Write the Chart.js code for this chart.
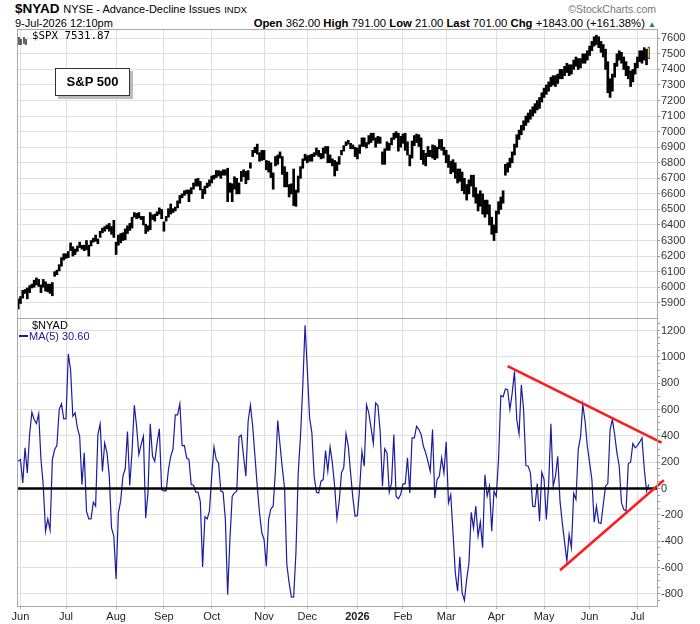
<!DOCTYPE html>
<html>
<head>
<meta charset="utf-8">
<script src="https://cdn.jsdelivr.net/npm/chart.js@4.4.1/dist/chart.umd.min.js"></script>
<style>
  body { margin: 0; width: 700px; height: 624px; background: #fff; position: relative; overflow: hidden;
         font-family: "Liberation Sans", Arial, sans-serif; color: #000; }
  .txt { position: absolute; white-space: nowrap; }
  canvas { position: absolute; left: 0; }
  #spBox { position: absolute; left: 55px; top: 68px; width: 73px; height: 26px; border: 1px solid #333;
           background: #fff; box-shadow: 3px 3px 0 #bbb; font: bold 13px "Liberation Sans", Arial, sans-serif;
           text-align: center; line-height: 26px; }
</style>
</head>
<body>
<div class="txt" style="left:15px;top:2px;font-size:13.5px;line-height:13px;"><b>$NYAD</b> <span style="font-size:11px">NYSE - Advance-Decline Issues</span> <span style="font-size:9.5px">INDX</span></div>
<div class="txt" style="left:15px;top:18px;font-size:11px;line-height:11px;">9-Jul-2026 12:10pm</div>
<div class="txt" style="right:44px;top:4px;font-size:10.5px;line-height:10.5px;color:#777;">&copy;StockCharts.com</div>
<div class="txt" style="right:44px;top:18px;font-size:11.3px;line-height:11px;"><b>Open</b> 362.00 <b>High</b> 791.00 <b>Low</b> 21.00 <b>Last</b> 701.00 <b>Chg</b> +1843.00 (+161.38%) <span style="color:#2e7d32;font-size:8px;">&#9650;</span></div>

<canvas id="priceChart" width="700" height="289" style="top:29px"></canvas>
<canvas id="adChart" width="700" height="306" style="top:318px"></canvas>

<div class="txt" style="left:18px;top:31px;">
  <svg width="9" height="8"><path d="M1 0v8M3 2v6M6 0v7M8 2v6" stroke="#000" stroke-width="1.2"/></svg>
</div>
<div class="txt" style="left:32px;top:30px;font-family:'DejaVu Sans Mono',monospace;font-size:10.8px;line-height:11px;">$SPX 7531.87</div>
<div id="spBox">S&amp;P 500</div>
<div class="txt" style="left:32px;top:320px;font-size:11px;line-height:11px;">$NYAD</div>
<div class="txt" style="left:19px;top:331px;font-size:11px;line-height:11px;color:#1a1a9a;"><span style="display:inline-block;width:9px;height:2px;background:#1a1a9a;vertical-align:3px;margin-right:1px"></span>MA(5) 30.60</div>

<script>
// x positions are trading-day indexes, 0 = 30-May-2025
const monthStarts = [1, 21, 43, 64, 85, 108, 127, 149, 169, 188, 210, 231, 251, 272];
const monthNames = ["Jun", "Jul", "Aug", "Sep", "Oct", "Nov", "Dec", "2026", "Feb", "Mar", "Apr", "May", "Jun", "Jul"];

const priceTicks = [5900, 6000, 6100, 6200, 6300, 6400, 6500, 6600, 6700, 6800, 6900, 7000, 7100, 7200, 7300, 7400, 7500, 7600];
const adTicks = [-800, -600, -400, -200, 0, 200, 400, 600, 800, 1000, 1200];

// $SPX daily lows / highs
const spxLow = [
  5860,5895,5930,5960,5925,5965,5995,6000,6015,6005,5965,6000,5975,5970,5960,5945,6070,6080,6105,6135,6175,
  6185,6190,6235,6200,6210,6230,6255,6245,6235,6240,6200,6265,6290,6295,6280,6320,6350,6360,6375,6360,6340,6320,
  6210,6270,6285,6300,6305,6345,6365,6380,6450,6440,6445,6435,6400,6345,6360,6370,6435,6425,6460,6470,6440,
  6360,6425,6450,6470,6480,6490,6510,6540,6575,6590,6600,6550,6600,6630,6650,6650,6625,6570,6600,6640,6650,
  6670,6695,6705,6715,6700,6720,6720,6550,6610,6550,6630,6600,6600,6680,6710,6665,6690,6765,6840,6865,6855,6810,6815,
  6820,6755,6740,6705,6630,6780,6790,6830,6725,6645,6645,6580,6600,6525,6520,6610,6700,6765,6815,
  6800,6810,6810,6840,6850,6840,6825,6830,6860,6800,6800,6780,6715,6750,6790,6850,6875,6910,6920,6890,6890,6840,
  6825,6860,6905,6905,6895,6920,6930,6945,6900,6925,6925,6790,6790,6880,6880,6915,6950,6960,6875,6900,
  6925,6880,6850,6780,6830,6910,6930,6905,6820,6790,6780,6840,6840,6830,6820,6830,6890,6880,6850,
  6800,6770,6730,6740,6700,6670,6680,6620,6600,6560,6600,6650,6580,6540,6490,6520,6470,6450,6470,6400,6340,6300,
  6350,6470,6500,6540,6720,6740,6770,6800,6850,6900,6950,6980,7010,7040,7060,7080,7100,7120,7140,7150,7190,
  7220,7240,7260,7290,7300,7290,7310,7340,7340,7360,7380,7360,7370,7400,7420,7400,7410,7440,7440,7460,
  7490,7520,7550,7560,7540,7510,7480,7400,7250,7220,7260,7350,7420,7460,7440,7400,7360,7340,7290,7320,7370,
  7410,7450,7440,7460,7430,7470
];
const spxHigh = [
  5925,5940,5980,5985,5995,6010,6020,6045,6060,6050,6015,6050,6035,6020,6020,6030,6100,6110,6145,6190,6215,
  6215,6230,6285,6260,6245,6265,6290,6270,6270,6300,6270,6300,6315,6335,6310,6360,6380,6390,6400,6410,6390,6430,
  6290,6335,6345,6350,6375,6395,6410,6450,6480,6475,6480,6455,6455,6405,6395,6480,6465,6470,6485,6510,6500,
  6420,6455,6505,6535,6505,6515,6555,6590,6600,6620,6625,6625,6640,6670,6695,6700,6680,6630,6650,6670,6690,
  6715,6720,6750,6750,6745,6755,6755,6765,6670,6665,6710,6700,6670,6745,6755,6745,6750,6800,6880,6900,6920,6865,6880,
  6880,6815,6810,6800,6735,6840,6850,6870,6840,6775,6740,6660,6665,6760,6625,6715,6775,6825,6855,
  6845,6850,6855,6865,6895,6880,6860,6895,6905,6905,6850,6825,6815,6805,6840,6880,6910,6935,6945,6925,6915,6900,
  6895,6915,6960,6960,6930,6975,6990,6990,6960,6970,6965,6870,6890,6935,6925,6960,6990,7000,6990,6970,
  6985,6990,6935,6850,6940,6975,6985,6980,6960,6880,6860,6905,6880,6915,6910,6900,6950,6950,6900,
  6880,6850,6810,6820,6800,6760,6760,6740,6700,6660,6690,6720,6720,6640,6600,6620,6600,6560,6560,6530,6450,6400,
  6490,6550,6580,6620,6790,6800,6830,6870,6920,6980,7010,7040,7070,7100,7120,7140,7160,7180,7200,7220,7250,
  7280,7300,7320,7350,7360,7360,7370,7400,7400,7420,7440,7430,7430,7460,7480,7470,7470,7500,7500,7520,
  7550,7580,7610,7620,7610,7580,7560,7530,7450,7340,7370,7440,7500,7520,7510,7480,7450,7420,7390,7400,7440,
  7480,7520,7520,7540,7530,7545
];

// $NYAD 5-day moving average
const nyadMA5 = [
  207,220,43,309,119,410,579,524,493,567,
  220,25,-324,-230,-316,220,296,326,600,643,
  529,531,1022,903,549,574,460,397,30,271,
  -172,-230,-230,-104,-134,410,491,130,347,271,
  94,-300,-362,-686,-185,-96,94,150,433,23,
  283,633,473,258,334,397,-223,-33,491,245,
  207,347,453,-8,-18,-18,144,245,300,560,
  560,643,326,326,233,220,30,25,-28,-28,
  -100,-595,-215,-230,-172,94,316,220,195,-20,
  -28,-235,-807,-387,-58,-33,-20,392,405,245,
  94,511,633,473,245,18,-185,-336,-387,-589,
  -235,-154,-134,140,516,334,157,5,-577,-716,
  -825,-823,-488,119,397,777,1240,903,536,423,
  94,-28,-33,56,68,288,132,316,195,18,
  -230,-100,119,157,415,321,119,-71,-210,-205,
  5,283,170,635,574,460,342,650,630,435,
  18,301,271,-28,43,410,-58,-78,-46,35,
  35,233,-33,385,385,473,448,410,321,271,
  207,132,448,-71,68,94,233,119,354,-109,
  -46,-336,-640,-779,-519,-792,-850,-690,-564,-180,
  -300,-134,-362,-253,-450,104,-58,18,-324,-20,
  -60,220,706,696,756,751,600,726,891,524,
  415,787,600,175,170,119,-134,-139,38,-248,
  124,68,-235,30,491,18,94,245,-96,-261,
  -407,-552,-349,-450,-38,-83,296,392,638,511,
  321,195,68,-256,-134,-261,-266,-121,18,38,
  448,524,410,271,170,-109,-159,-172,190,200,
  342,309,326,352,385,150,-20,30.6
];

// hand-drawn trend lines [dayIndex, value]
const upperTrend = [[215, 929], [282.6, 349]];
const lowerTrend = [[238, -620], [283.6, 63]];

const X_MIN = -0.53, X_MAX = 280.6;
const GRID = "#e0e0e0";
const lastIdx = spxLow.length - 1;

const panelBorder = {
  id: "panelBorder",
  afterDraw(chart) {
    const { ctx, chartArea: a } = chart;
    ctx.save();
    ctx.strokeStyle = "#a8a8a8";
    ctx.lineWidth = 1;
    ctx.strokeRect(a.left + 0.5, a.top + 0.5, a.right - a.left, a.bottom - a.top);
    ctx.restore();
  }
};

function xScale(showLabels) {
  return {
    type: "linear",
    min: X_MIN,
    max: X_MAX,
    offset: false,
    afterBuildTicks: s => { s.ticks = monthStarts.map(v => ({ value: v })); },
    afterFit: s => {
      s.height = showLabels ? 18 : 0;
      s.paddingLeft = 0; s.paddingRight = 0;
    },
    border: { display: false },
    grid: { color: GRID, offset: false, drawTicks: showLabels, tickLength: 3, tickColor: "#aaa" },
    ticks: {
      display: showLabels,
      autoSkip: false,
      maxRotation: 0,
      padding: 1,
      color: "#222",
      font: c => ({ family: "Liberation Sans", size: 11, weight: monthNames[monthStarts.indexOf(c.tick && c.tick.value)] === "2026" ? "bold" : "normal" }),
      callback: v => monthNames[monthStarts.indexOf(v)] || ""
    }
  };
}

function yScale(min, max, tickValues, opts) {
  return {
    position: "right",
    min, max,
    afterBuildTicks: s => { s.ticks = tickValues.map(v => ({ value: v })); },
    afterFit: s => {
      s.width = 43;
      s.paddingTop = 0; s.paddingBottom = 0;
    },
    border: { display: false },
    grid: {
      color: c => (opts.major && !opts.major.includes(c.tick.value)) ? "rgba(0,0,0,0)" : GRID,
      tickLength: 3,
      tickColor: "#999"
    },
    ticks: {
      autoSkip: false,
      padding: 1,
      color: "#333",
      font: { family: "Liberation Sans", size: 11 },
      callback: v => (opts.major && !opts.major.includes(v)) ? "" : String(v)
    }
  };
}

new Chart(document.getElementById("priceChart"), {
  type: "bar",
  data: {
    datasets: [
      {
        data: spxLow.map((lo, i) => ({ x: i, y: [lo, spxHigh[i]] })),
        backgroundColor: c => c.dataIndex === lastIdx ? "#f5e600" : "#000",
        borderColor: c => c.dataIndex === lastIdx ? "#444" : "#000",
        borderWidth: c => c.dataIndex === lastIdx ? 1 : 0,
        borderSkipped: false,
        barThickness: 2,
        grouped: false
      }
    ]
  },
  options: {
    responsive: false,
    animation: false,
    layout: { padding: { left: 17, right: 0, top: 0, bottom: 0 } },
    plugins: { legend: { display: false }, tooltip: { enabled: false } },
    scales: {
      x: xScale(false),
      y: yScale(5802, 7660, priceTicks, {})
    }
  },
  plugins: [panelBorder]
});

// minor ticks for the breadth panel every 50
const adMinor = [];
for (let v = -850; v <= 1250; v += 50) adMinor.push(v);

new Chart(document.getElementById("adChart"), {
  type: "line",
  data: {
    datasets: [
      {
        data: upperTrend.map(p => ({ x: p[0], y: p[1] })),
        borderColor: "#ff1a1a", borderWidth: 2.5, pointRadius: 0, clip: false, order: 0
      },
      {
        data: lowerTrend.map(p => ({ x: p[0], y: p[1] })),
        borderColor: "#ff1a1a", borderWidth: 2.5, pointRadius: 0, clip: false, order: 0
      },
      {
        data: [{ x: X_MIN, y: 0 }, { x: X_MAX, y: 0 }],
        borderColor: "#000", borderWidth: 2.5, pointRadius: 0, order: 1
      },
      {
        data: nyadMA5.map((v, i) => ({ x: i, y: v })),
        borderColor: "#1c1c9e", borderWidth: 1.2, pointRadius: 0, tension: 0, order: 2
      }
    ]
  },
  options: {
    responsive: false,
    animation: false,
    layout: { padding: { left: 17, right: 0, top: 0, bottom: 0 } },
    plugins: { legend: { display: false }, tooltip: { enabled: false } },
    scales: {
      x: xScale(true),
      y: yScale(-892, 1295, adMinor, { major: adTicks })
    }
  },
  plugins: [panelBorder]
});
</script>
</body>
</html>
